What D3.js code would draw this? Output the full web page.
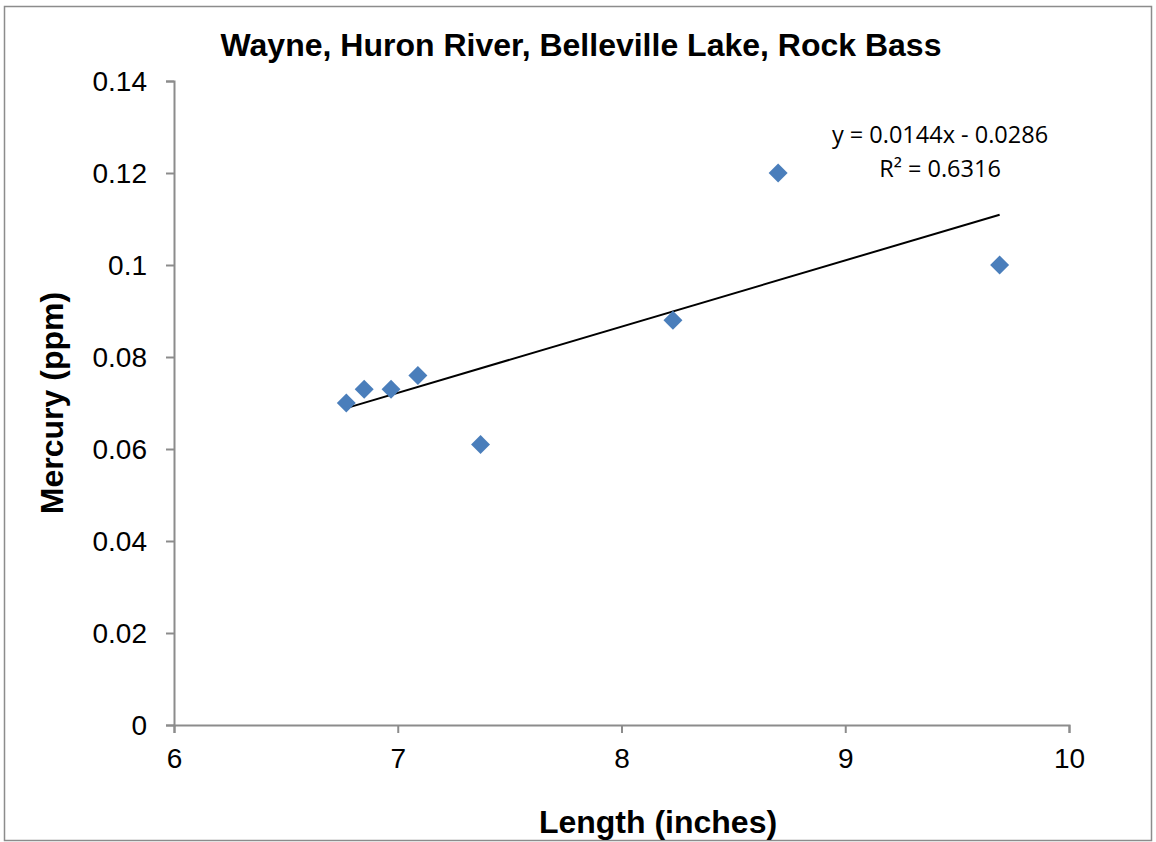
<!DOCTYPE html>
<html>
<head>
<meta charset="utf-8">
<script src="https://cdn.jsdelivr.net/npm/d3@7"></script>
<style>
  body { margin: 0; background: #fff; }
  svg { display: block; font-family: "Liberation Sans", Arial, sans-serif; }
</style>
</head>
<body>
<svg id="chart"></svg>
<script>
const lengths = [6.77, 6.85, 6.97, 7.09, 7.37, 8.23, 8.70, 9.69];
const mercury = [0.070, 0.073, 0.073, 0.076, 0.061, 0.088, 0.120, 0.100];
const xTicks = [6, 7, 8, 9, 10];
const yTicks = [0, 0.02, 0.04, 0.06, 0.08, 0.1, 0.12, 0.14];
const slope = 0.0144, intercept = -0.0286;

function init() {
  const width = 1156, height = 842;
  const margin = { left: 174, right: 87, top: 81, bottom: 117 };

  const svg = d3.select("#chart").attr("width", width).attr("height", height);

  svg.append("rect")
    .attr("x", 4.5).attr("y", 6.5)
    .attr("width", 1147).attr("height", 834)
    .attr("fill", "#fff")
    .attr("stroke", "#8c8c8c")
    .attr("stroke-width", 1.5);

  const x = d3.scaleLinear().domain([6, 10]).range([margin.left, width - margin.right]);
  const y = d3.scaleLinear().domain([0, 0.14]).range([height - margin.bottom, margin.top]);

  const xAxis = svg.append("g")
    .attr("transform", `translate(0, ${y(0)})`)
    .call(d3.axisBottom(x).tickValues(xTicks).tickSize(8).tickPadding(15).tickFormat(d3.format("d")));

  const yAxis = svg.append("g")
    .attr("transform", `translate(${x(6)}, 0)`)
    .call(d3.axisLeft(y).tickValues(yTicks).tickSize(8).tickPadding(19).tickFormat(d => d));

  [xAxis, yAxis].forEach(g => {
    g.select(".domain").attr("stroke", "#8c8c8c").attr("stroke-width", 2);
    g.selectAll(".tick line").attr("stroke", "#8c8c8c").attr("stroke-width", 2);
    g.selectAll(".tick text")
      .attr("fill", "#000")
      .style("font-size", "28px")
      .style("font-family", "'Liberation Sans', Arial, sans-serif");
  });
  yAxis.selectAll(".tick text").attr("dy", "0.35em");

  // trendline
  const x0 = d3.min(lengths), x1 = d3.max(lengths);
  svg.append("line")
    .attr("x1", x(x0)).attr("y1", y(slope * x0 + intercept))
    .attr("x2", x(x1)).attr("y2", y(slope * x1 + intercept))
    .attr("stroke", "#000")
    .attr("stroke-width", 2);

  const pts = lengths.map((d, i) => [d, mercury[i]]);
  svg.selectAll("path.pt")
    .data(pts)
    .join("path")
    .attr("class", "pt")
    .attr("d", d3.symbol(d3.symbolSquare, 180)())
    .attr("transform", d => `translate(${x(d[0])}, ${y(d[1])}) rotate(45)`)
    .attr("fill", "#4a7ebb");

  svg.append("text")
    .attr("x", 581).attr("y", 56)
    .attr("text-anchor", "middle")
    .style("font-size", "32px")
    .style("font-weight", "bold")
    .text("Wayne, Huron River, Belleville Lake, Rock Bass");

  svg.append("text")
    .attr("transform", `translate(63, ${(y(0) + y(0.14)) / 2}) rotate(-90)`)
    .attr("text-anchor", "middle")
    .style("font-size", "32px")
    .style("font-weight", "bold")
    .text("Mercury (ppm)");

  svg.append("text")
    .attr("x", 658).attr("y", 833)
    .attr("text-anchor", "middle")
    .style("font-size", "32px")
    .style("font-weight", "bold")
    .text("Length (inches)");

  const eq = svg.append("text")
    .attr("text-anchor", "middle")
    .style("font-family", "'Open Sans', 'Noto Sans', sans-serif")
    .style("font-size", "23.5px");
  eq.append("tspan").attr("x", 940).attr("y", 143).text("y = 0.0144x - 0.0286");
  eq.append("tspan").attr("x", 940).attr("y", 177).text("R\u00B2 = 0.6316");
}

init();
</script>
</body>
</html>
